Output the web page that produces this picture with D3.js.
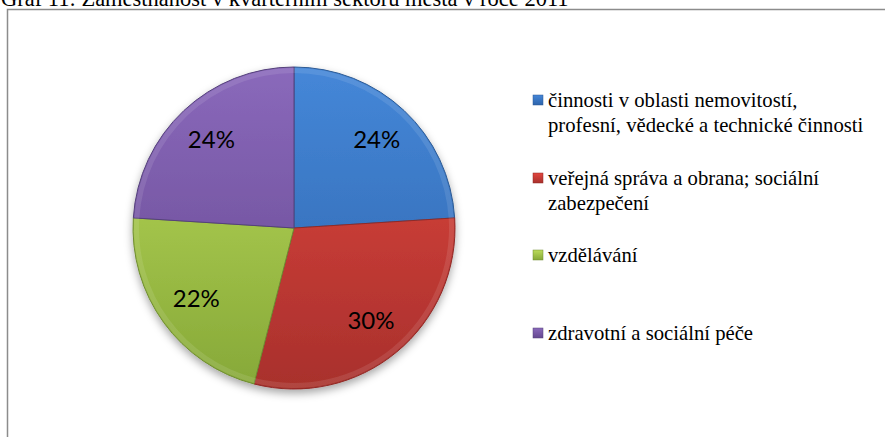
<!DOCTYPE html>
<html>
  <head>
    <meta charset="utf-8" />
    <script src="https://d3js.org/d3.v7.min.js"></script>
    <style>
      body { margin: 0; background: #fff; }
      .serif { font-family: "Liberation Serif", "DejaVu Serif", serif; }
    </style>
  </head>
  <body>
    <svg id="chart" width="885" height="437"></svg>
    <script>
      // Data
      const categories = [
        ["činnosti v oblasti nemovitostí,", "profesní, vědecké a technické činnosti"],
        ["veřejná správa a obrana; sociální", "zabezpečení"],
        ["vzdělávání"],
        ["zdravotní a sociální péče"],
      ];
      const values = [24, 30, 22, 24];
      const percentLabels = ["24%", "30%", "22%", "24%"];
      const titleText = "Graf 11: Zaměstnanost v kvartérním sektoru města v roce 2011";

      // barvy (světlá / tmavá pro přechod)
      const colorsTop = ["#4587d8", "#e3473f", "#bcdc5a", "#8a69bb"];
      const colorsBottom = ["#2d64ab", "#a8302c", "#86a838", "#64478f"];
      const strokes = ["#2d5a93", "#8f2a27", "#6f8c32", "#54407a"];

      const width = 885;
      const height = 437;
      const cx = 294, cy = 228, radius = 161;

      const svg = d3.select("#chart");
      const defs = svg.append("defs");

      // stín pod koláčem
      const filter = defs.append("filter").attr("id", "shadow")
        .attr("x", "-20%").attr("y", "-20%").attr("width", "140%").attr("height", "140%");
      filter.append("feDropShadow")
        .attr("dx", 0).attr("dy", 4).attr("stdDeviation", 4)
        .attr("flood-color", "#000").attr("flood-opacity", 0.35);

      values.forEach((v, i) => {
        const g = defs.append("linearGradient").attr("id", "grad" + i)
          .attr("gradientUnits", "userSpaceOnUse")
          .attr("x1", 0).attr("y1", -radius).attr("x2", 0).attr("y2", radius);
        g.append("stop").attr("offset", "0%").attr("stop-color", colorsTop[i]);
        g.append("stop").attr("offset", "100%").attr("stop-color", colorsBottom[i]);
        const lg = defs.append("linearGradient").attr("id", "lgrad" + i)
          .attr("x1", 0).attr("y1", 0).attr("x2", 0).attr("y2", 1);
        lg.append("stop").attr("offset", "0%").attr("stop-color", colorsTop[i]);
        lg.append("stop").attr("offset", "100%").attr("stop-color", colorsBottom[i]);
      });

      // Rámeček grafu
      svg.append("rect")
        .attr("x", 7.5).attr("y", 9.5)
        .attr("width", 900).attr("height", 450)
        .attr("fill", "none")
        .attr("stroke", "#8c8c8c")
        .attr("stroke-width", 1.5);

      // Titulek (v předloze oříznutý nahoře)
      svg.append("text")
        .attr("class", "serif")
        .attr("x", 1).attr("y", 6)
        .style("font-size", "22.5px")
        .attr("fill", "#000")
        .text(titleText);

      const pie = d3.pie().sort(null).value((d) => d);
      const arcs = pie(values);
      const arc = d3.arc().innerRadius(0).outerRadius(radius);
      const labelArc = d3.arc().innerRadius(radius * 0.75).outerRadius(radius * 0.75);

      const g = svg.append("g").attr("transform", `translate(${cx},${cy})`);
      const slices = g.append("g").attr("filter", "url(#shadow)");
      slices.selectAll("path")
        .data(arcs)
        .enter()
        .append("path")
        .attr("d", arc)
        .attr("fill", (d, i) => `url(#grad${i})`)
        .attr("stroke", (d, i) => strokes[i])
        .attr("stroke-width", 1);

      // světlý okraj (bevel)
      g.append("g").selectAll("path")
        .data(arcs)
        .enter()
        .append("path")
        .attr("d", d3.arc().innerRadius(radius - 6).outerRadius(radius - 1))
        .attr("fill", "#fff")
        .attr("opacity", 0.1);

      g.selectAll(".lbl")
        .data(arcs)
        .enter()
        .append("text")
        .attr("class", "lbl")
        .attr("transform", (d) => `translate(${labelArc.centroid(d)})`)
        .attr("text-anchor", "middle")
        .attr("dy", "0.35em")
        .style("font-family", "Lato, 'Open Sans', sans-serif")
        .style("font-size", "24px")
        .attr("fill", "#000")
        .text((d, i) => percentLabels[i]);

      // Legenda
      const legendY = [100, 178, 255, 333];
      const legend = svg.append("g");
      const items = legend.selectAll("g")
        .data(categories)
        .enter()
        .append("g")
        .attr("transform", (d, i) => `translate(533,${legendY[i]})`);
      items.append("rect")
        .attr("x", 0).attr("y", -5)
        .attr("width", 10).attr("height", 10)
        .attr("fill", (d, i) => `url(#lgrad${i})`)
        .attr("stroke", (d, i) => strokes[i])
        .attr("stroke-width", 0.5);
      items.each(function (lines) {
        const t = d3.select(this).append("text")
          .attr("class", "serif")
          .style("font-size", "20.7px")
          .attr("fill", "#000");
        lines.forEach((line, j) => {
          t.append("tspan")
            .attr("x", 15)
            .attr("y", j * 25)
            .attr("dy", "0.35em")
            .text(line);
        });
      });
    </script>
  </body>
</html>
